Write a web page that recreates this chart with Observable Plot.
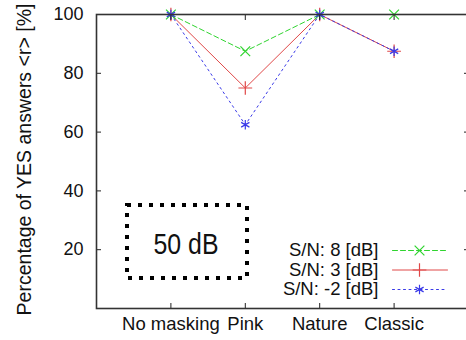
<!DOCTYPE html>
<html>
<head>
<meta charset="utf-8">
<script src="https://cdn.jsdelivr.net/npm/d3@7"></script>
<script src="https://cdn.jsdelivr.net/npm/@observablehq/plot@0.6"></script>
<style>
  html, body { margin: 0; padding: 0; background: white; overflow: hidden; }
  #chart { width: 466px; height: 340px; }
</style>
</head>
<body>
<div id="chart"></div>
<script>
// ---- data ----
const categories = ["No masking", "Pink", "Nature", "Classic"];
const seriesNames = ["S/N: 8 [dB]", "S/N: 3 [dB]", "S/N: -2 [dB]"];
const sn8  = [100, 87.5, 100, 100];
const sn3  = [100, 75, 100, 87.5];
const snm2 = [100, 62.5, 100, 87.5];
const yTicks = [20, 40, 60, 80, 100];
const yLabel = "Percentage of YES answers <r> [%]";
const boxLabel = "50 dB";

// ---- styles ----
const colors = ["#2fd42f", "#e04848", "#3a3ae8"];
const symbols = ["times", "plus", "asterisk"];
const dashes = ["5,3", null, "2,3.5"];
const font = "'Liberation Sans', Arial, Helvetica, sans-serif";

const seriesValues = [sn8, sn3, snm2];
const rows = [];
seriesValues.forEach((vals, s) => {
  vals.forEach((v, i) => rows.push({series: seriesNames[s], s, idx: i + 1, cat: categories[i], value: v}));
});
const xTicks = categories.map((c, i) => i + 1);

const marks = [];
// data lines and markers
seriesNames.forEach((name, s) => {
  const data = rows.filter(r => r.s === s);
  marks.push(Plot.line(data, {x: "idx", y: "value", stroke: colors[s], strokeWidth: 1, strokeDasharray: dashes[s]}));
});
seriesNames.forEach((name, s) => {
  const data = rows.filter(r => r.s === s);
  marks.push(Plot.dot(data, {x: "idx", y: "value", stroke: colors[s], symbol: () => symbols[s], r: 4.5, strokeWidth: 1.2}));
});

// axes (inward ticks, mirrored)
marks.push(Plot.axisY({ticks: yTicks, anchor: "left", tickSize: -5, text: null, label: null, stroke: "#222"}));
marks.push(Plot.axisY({ticks: yTicks, anchor: "right", tickSize: -5, text: null, label: null, stroke: "#222"}));
marks.push(Plot.axisX({ticks: xTicks, anchor: "bottom", tickSize: -5, text: null, label: null, stroke: "#222"}));
marks.push(Plot.axisX({ticks: xTicks, anchor: "top", tickSize: -5, text: null, label: null, stroke: "#222"}));
marks.push(Plot.axisY({ticks: yTicks, anchor: "left", tickSize: 0, tickPadding: 13, fontSize: 18, label: null, fill: "#111"}));
marks.push(Plot.axisX({ticks: xTicks, anchor: "bottom", tickSize: 0, tickPadding: 8, fontSize: 18.5, label: null, fill: "#111",
  tickFormat: d => categories[d - 1]}));
marks.push(Plot.frame({stroke: "#333", strokeWidth: 1.6}));

// y axis title
marks.push(Plot.text([yLabel], {frameAnchor: "left", textAnchor: "middle", lineAnchor: "middle", rotate: -90, dx: -72, dy: -2, fontSize: 19.5, fill: "#111"}));

// dotted box annotation
marks.push(Plot.rect([boxLabel], {insetLeft: 31, insetRight: 221, insetTop: 191, insetBottom: 30,
  fill: "none", stroke: "black", strokeWidth: 4, strokeDasharray: "4,7"}));
marks.push(Plot.text([boxLabel], {frameAnchor: "bottom-left", textAnchor: "middle", lineAnchor: "middle", dx: 89.5, dy: -64, fontSize: 30, fill: "#111"}));

// legend
const legendRowDy = [-58, -38.5, -19];
seriesNames.forEach((name, s) => {
  marks.push(Plot.text([name], {frameAnchor: "bottom-right", dx: -90, dy: legendRowDy[s], textAnchor: "end", lineAnchor: "middle", fontSize: 18.5, fill: "#111"}));
  marks.push(Plot.vector([name], {frameAnchor: "bottom-right", dx: -76, dy: legendRowDy[s], rotate: 90, length: 55, anchor: "start",
    stroke: colors[s], strokeWidth: 1, strokeDasharray: dashes[s],
    shape: {draw(ctx, l) { ctx.moveTo(0, 0); ctx.lineTo(0, -l); }}}));
  marks.push(Plot.dot([name], {frameAnchor: "bottom-right", dx: -49, dy: legendRowDy[s], stroke: colors[s], symbol: () => symbols[s], r: 4.5, strokeWidth: 1.2}));
});

const chart = Plot.plot({
  width: 466,
  height: 340,
  marginLeft: 96,
  marginRight: -2,
  marginTop: 14,
  marginBottom: 32,
  style: {fontFamily: font, background: "white", overflow: "hidden"},
  x: {domain: [0, 5], axis: null},
  y: {domain: [0, 100], axis: null},
  symbol: {type: "identity"},
  marks
});
// condense the "50 dB" annotation to match the narrow face of the original
d3.select(chart).selectAll("text")
  .filter(function() { return this.textContent === boxLabel; })
  .attr("textLength", 65).attr("lengthAdjust", "spacingAndGlyphs");
document.getElementById("chart").appendChild(chart);
</script>
</body>
</html>
